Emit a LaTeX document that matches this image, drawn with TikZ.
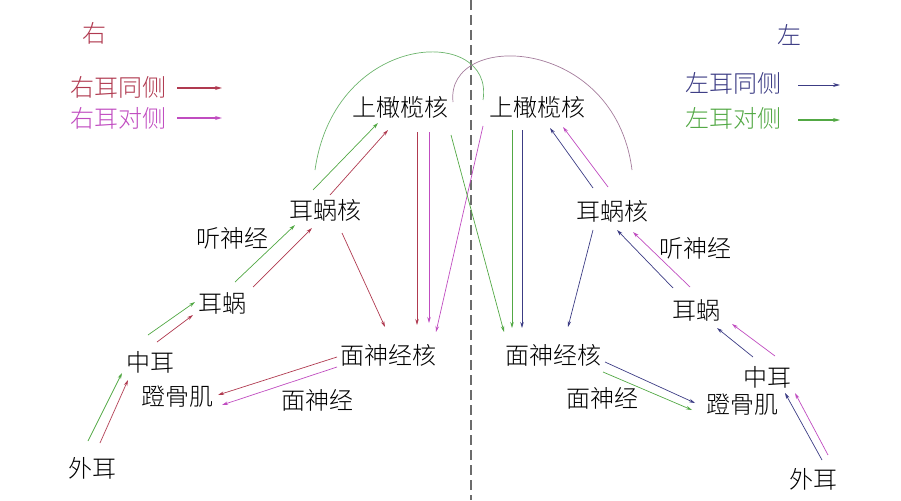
\documentclass[tikz,border=0pt]{standalone}
\usepackage{fontspec}
\newfontfamily\cjk{Noto Sans CJK SC Light}
\usetikzlibrary{arrows.meta}
\definecolor{ipsiR}{HTML}{B03A50}
\definecolor{contraR}{HTML}{C04CC0}
\definecolor{ipsiL}{HTML}{3C3C84}
\definecolor{contraL}{HTML}{52A844}
\definecolor{arcG}{HTML}{6CB46C}
\definecolor{arcM}{HTML}{A47C9C}
\tikzstyle{part} = [font=\cjk\fontsize{24}{24}\selectfont, inner sep=1pt, text=black]
\tikzstyle{arrow} = [line width=0.7pt, -{Stealth[length=6pt, width=3.5pt]}]
\tikzstyle{keyarrow} = [line width=1.4pt, -{Stealth[length=7pt, width=4pt]}]
\tikzstyle{crossarc} = [line width=0.7pt]

\begin{document}
\begin{tikzpicture}[x=1pt, y=-1pt]
\useasboundingbox (0,0) rectangle (901,500);

% Midline
\coordinate (midtop) at (471,0);
\coordinate (midbot) at (471,500);
\draw[gray!85!black, line width=1.3pt, dash pattern=on 10pt off 5pt] (midtop) -- (midbot);

% Legend
\node (sideR) [part, text=ipsiR] at (94,33) {右};
\node (sideL) [part, text=ipsiL] at (789,35) {左};
\node (keyA) [part, text=ipsiR] at (118,87) {右耳同侧};
\node (keyB) [part, text=contraR] at (118,118) {右耳对侧};
\node (keyC) [part, text=ipsiL] at (733,83) {左耳同侧};
\node (keyD) [part, text=contraL] at (733,118) {左耳对侧};
\coordinate (keyAend) at (222,88);
\coordinate (keyBend) at (222,118);
\coordinate (keyCend) at (840,85);
\coordinate (keyDend) at (840,120);
\draw [keyarrow, ipsiR] ([xshift=10]keyA.east |- keyAend) -- (keyAend);
\draw [keyarrow, contraR] ([xshift=10]keyB.east |- keyBend) -- (keyBend);
\draw [keyarrow, ipsiL, line width=0.9pt] ([xshift=16]keyC.east |- keyCend) -- (keyCend);
\draw [keyarrow, contraL] ([xshift=16]keyD.east |- keyDend) -- (keyDend);

% Right side (image left)
\node (oliveL) [part] at (400,107) {上橄榄核};
\node (cochnucL) [part] at (325,210) {耳蜗核};
\node (nerveL) [part] at (232,238) {听神经};
\node (cochL) [part] at (222,303) {耳蜗};
\node (midL) [part] at (150,362) {中耳};
\node (stapL) [part] at (177,397) {蹬骨肌};
\node (facnucL) [part] at (388,355) {面神经核};
\node (facL) [part] at (317,400) {面神经};
\node (outerL) [part] at (92,468) {外耳};

% Left side (image right)
\node (oliveR) [part] at (537,107) {上橄榄核};
\node (cochnucR) [part] at (612,211) {耳蜗核};
\node (nerveR) [part] at (695,248) {听神经};
\node (cochR) [part] at (696,310) {耳蜗};
\node (midR) [part] at (767,377) {中耳};
\node (stapR) [part] at (742,405) {蹬骨肌};
\node (facnucR) [part] at (553,355) {面神经核};
\node (facR) [part] at (602,398) {面神经};
\node (outerR) [part] at (813,479) {外耳};

% Ascending chain, image left
\draw [arrow, contraL] ([shift={(-4,-27)}]outerL.center) -- ([shift={(-28,11)}]midL.center);
\draw [arrow, ipsiR] ([shift={(8,-25)}]outerL.center) -- ([shift={(-22,18)}]midL.center);
\draw [arrow, contraL] ([shift={(-2,-27)}]midL.center) -- ([shift={(-27,-1)}]cochL.center);
\draw [arrow, ipsiR] ([shift={(7,-20)}]midL.center) -- ([shift={(-29,12)}]cochL.center);
\draw [arrow, contraL] ([shift={(13,-21)}]cochL.center) -- ([shift={(-30,15)}]cochnucL.center);
\draw [arrow, ipsiR] ([shift={(31,-16)}]cochL.center) -- ([shift={(-13,18)}]cochnucL.center);
\draw [arrow, contraL] ([shift={(-12,-20)}]cochnucL.center) -- ([shift={(-22,16)}]oliveL.center);
\draw [arrow, ipsiR] ([shift={(5,-15)}]cochnucL.center) -- ([shift={(-12,23)}]oliveL.center);

% Ascending chain, image right
\draw [arrow, ipsiL] ([shift={(9,-19)}]outerR.center) -- ([shift={(18,16)}]midR.center);
\draw [arrow, contraR] ([shift={(15,-24)}]outerR.center) -- ([shift={(28,16)}]midR.center);
\draw [arrow, ipsiL] ([shift={(-14,-20)}]midR.center) -- ([shift={(21,18)}]cochR.center);
\draw [arrow, contraR] ([shift={(8,-21)}]midR.center) -- ([shift={(36,14)}]cochR.center);
\draw [arrow, ipsiL] ([shift={(-23,-22)}]cochR.center) -- ([shift={(5,19)}]cochnucR.center);
\draw [arrow, contraR] ([shift={(-6,-23)}]cochR.center) -- ([shift={(21,21)}]cochnucR.center);
\draw [arrow, ipsiL] ([shift={(-19,-23)}]cochnucR.center) -- ([shift={(13,21)}]oliveR.center);
\draw [arrow, contraR] ([shift={(-4,-24)}]cochnucR.center) -- ([shift={(26,20)}]oliveR.center);

% Crossing arcs over the midline
\draw [crossarc, arcG] ([shift={(-10,-40)}]cochnucL.center) .. controls (335,30) and (495,25) .. ([shift={(-54,-7)}]oliveR.center);
\draw [crossarc, arcM] ([shift={(53,-5)}]oliveL.center) .. controls (445,30) and (615,35) .. ([shift={(20,-41)}]cochnucR.center);

% Down to facial nucleus
\draw [arrow, ipsiR] ([shift={(17,23)}]cochnucL.center) -- ([shift={(-3,-28)}]facnucL.center);
\draw [arrow, ipsiR] ([shift={(17,25)}]oliveL.center) -- ([shift={(29,-30)}]facnucL.center);
\draw [arrow, contraR] ([shift={(29,25)}]oliveL.center) -- ([shift={(41,-32)}]facnucL.center);
\draw [arrow, contraR] ([shift={(-54,19)}]oliveR.center) -- ([shift={(48,-23)}]facnucL.center);
\draw [arrow, contraL] ([shift={(51,28)}]oliveL.center) -- ([shift={(-49,-23)}]facnucR.center);
\draw [arrow, contraL] ([shift={(-25,23)}]oliveR.center) -- ([shift={(-41,-27)}]facnucR.center);
\draw [arrow, ipsiL] ([shift={(-15,23)}]oliveR.center) -- ([shift={(-31,-27)}]facnucR.center);
\draw [arrow, ipsiL] ([shift={(-19,19)}]cochnucR.center) -- ([shift={(15,-28)}]facnucR.center);

% Facial nerve to stapedius
\draw [arrow, ipsiR] ([shift={(-51,2)}]facnucL.center) -- ([shift={(41,-2)}]stapL.center);
\draw [arrow, contraR] ([shift={(-51,12)}]facnucL.center) -- ([shift={(45,8)}]stapL.center);
\draw [arrow, ipsiL] ([shift={(52,7)}]facnucR.center) -- ([shift={(-47,-2)}]stapR.center);
\draw [arrow, contraL] ([shift={(50,17)}]facnucR.center) -- ([shift={(-50,5)}]stapR.center);

\end{tikzpicture}
\end{document}
